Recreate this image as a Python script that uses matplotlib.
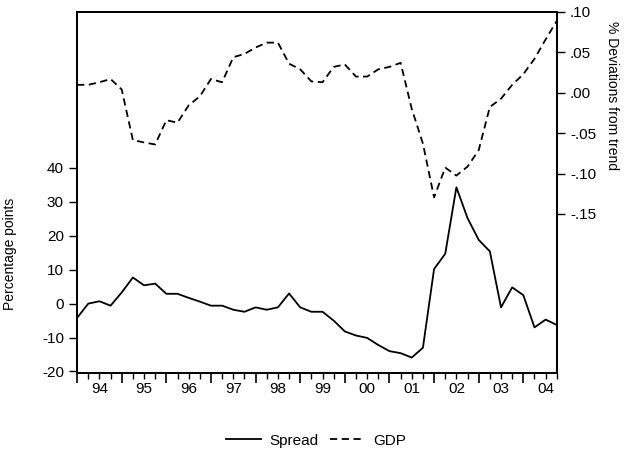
import numpy as np
import matplotlib
matplotlib.use('Agg')
import matplotlib.pyplot as plt
from matplotlib.ticker import FixedLocator, FuncFormatter

plt.rcParams['font.family'] = ['Liberation Sans', 'DejaVu Sans']
plt.rcParams['axes.unicode_minus'] = False

# quarterly, 1994Q1 - 2004Q4
spread = [-4.2, 0.0, 0.7, -0.6, 3.3, 7.7, 5.4, 5.9, 2.9, 2.9, 1.7, 0.6,
          -0.6, -0.6, -1.8, -2.4, -1.1, -1.8, -1.1, 3.0, -1.1, -2.4, -2.4, -5.0,
          -8.2, -9.4, -10.1, -12.2, -14.0, -14.6, -15.9, -13.0, 10.2, 14.7, 34.3, 25.2,
          18.8, 15.4, -1.1, 4.8, 2.5, -7.0, -4.7, -6.3]
gdp = [.0098, .0098, .013, .017, .004, -.0586, -.0615, -.064, -.034, -.037, -.0156, -.0045,
       .017, .013, .044, .048, .056, .062, .062, .036, .029, .014, .013, .032,
       .035, .020, .020, .029, .032, .037, -.020, -.063, -.1295, -.0926, -.1025, -.0914,
       -.071, -.0176, -.0074, .0098, .023, .042, .066, .089]
years = list(range(1994, 2005))
year_labels = ['94', '95', '96', '97', '98', '99', '00', '01', '02', '03', '04']

t = 1994 + np.arange(len(spread)) / 4.0

fig = plt.figure(figsize=(6.32, 4.59), dpi=100)
ax = fig.add_axes([0.122, 0.187, 0.759, 0.787])
ax2 = ax.twinx()

l1, = ax.plot(t, spread, color='black', lw=1.3, label='Spread')
l2, = ax2.plot(t, gdp, color='black', lw=1.3, ls=(0, (4, 2.5)), label='GDP')

ax.set_xlim(1994, 2004.75)
ax.set_ylim(-20.5, 86)
ax2.set_ylim(-0.347, 0.10)

ax.set_yticks([-20, -10, 0, 10, 20, 30, 40])
ax2.set_yticks([-0.15, -0.10, -0.05, 0.0, 0.05, 0.10])
ax2.yaxis.set_major_formatter(FuncFormatter(lambda v, p: ('%.2f' % v).replace('0.', '.')))

ax.xaxis.set_major_locator(FixedLocator(years))
ax.xaxis.set_minor_locator(FixedLocator(1994 + np.arange(44) / 4.0))
ax.set_xticklabels([])
ax.xaxis.set_minor_formatter(FuncFormatter(lambda v, p: ''))
for y, lab in zip(years, year_labels):
    ax.text(y + 0.5, -0.025, lab, transform=ax.get_xaxis_transform(),
            ha='center', va='top', fontsize=11)

ax.tick_params(axis='x', which='major', length=7, width=1.2)
ax.tick_params(axis='x', which='minor', length=4, width=1)
ax.tick_params(axis='y', length=6, width=1, labelsize=11)
ax2.tick_params(axis='y', length=6, width=1, labelsize=11)
for a in (ax, ax2):
    for s in a.spines.values():
        s.set_linewidth(1.3)

ax.set_ylabel('Percentage points', fontsize=10)
ax.yaxis.set_label_coords(-0.125, 0.33)
ax2.set_ylabel('% Deviations from trend', fontsize=10, rotation=-90, va='center')
ax2.yaxis.set_label_coords(1.115, 0.77)

fig.legend([l1, l2], ['Spread', 'GDP'], loc='center', bbox_to_anchor=(0.5, 0.04),
           ncol=2, frameon=False, fontsize=11, handlelength=2.3, handletextpad=0.5,
           columnspacing=0.8)

fig.savefig('out.png', dpi=100)
